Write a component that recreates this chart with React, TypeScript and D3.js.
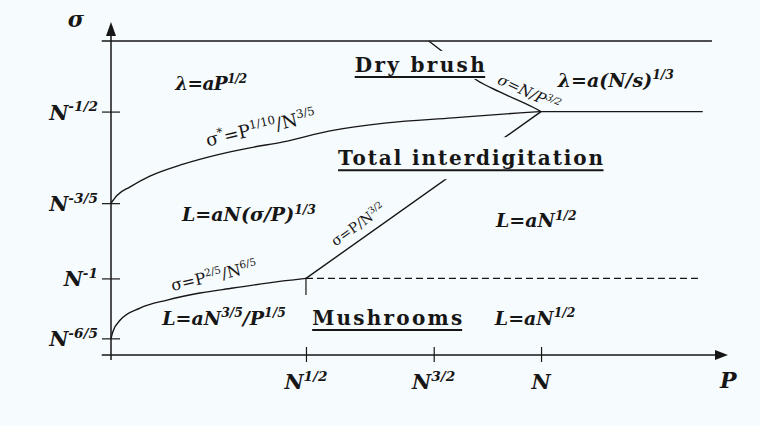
import { useEffect, useRef } from "react";
import * as d3 from "d3";

const W = 760;
const H = 426;
const BG = "#f6fbfd";
const INK = "#161616";
const FONT = "'DejaVu Serif', 'Liberation Serif', serif";

// Schematic diagram: both axes use arbitrary units (0..10).
const xTickValues = [3.16, 5.23, 6.97];
const xTickLabels = ["N^{1/2}", "N^{3/2}", "N"];
const yTickValues = [0.5, 2.3, 4.56, 7.31];
const yTickLabels = ["N^{-6/5}", "N^{-1}", "N^{-3/5}", "N^{-1/2}"];

// boundary  sigma* = P^{1/10} / N^{3/5}
const upperBoundaryX = [0, 0.1, 0.31, 0.63, 1.17, 1.72, 2.25, 2.79, 3.55, 4.47, 5.54, 6.63, 6.97];
const upperBoundaryY = [4.56, 4.8, 5.05, 5.37, 5.73, 6.01, 6.22, 6.4, 6.73, 6.97, 7.12, 7.27, 7.31];

// boundary  sigma = P^{2/5} / N^{6/5}
const lowerBoundaryX = [0, 0.03, 0.15, 0.47, 0.91, 1.44, 1.98, 2.53, 3.16];
const lowerBoundaryY = [0.5, 0.7, 1.05, 1.41, 1.65, 1.86, 2.01, 2.16, 2.3];

// boundary  sigma = P / N^{3/2}
const diagonalX = [3.16, 6.97];
const diagonalY = [2.3, 7.31];

// boundary  sigma = N / P^{3/2}
const dryBoundaryX = [5.15, 5.38, 5.93, 6.3, 6.84, 6.97];
const dryBoundaryY = [9.43, 9.1, 8.25, 7.9, 7.44, 7.31];

// horizontal limits
const topLineX = [-0.15, 9.74];
const topLineY = [9.43, 9.43];
const midLineX = [6.97, 9.59];
const midLineY = [7.31, 7.31];
const dashedX = [3.16, 9.55];
const dashedY = [2.3, 2.3];

type Note = {
  text: string;
  x: number;
  y: number;
  size: number;
  italic?: boolean;
  bold?: boolean;
  anchor?: string;
  angle?: number;
  underline?: boolean;
  mask?: [number, number];
  len?: number;
  spacing?: number;
};

const annotations: Note[] = [
  { text: "λ=aP^{1/2}", x: 1.04, y: 7.96, size: 18.5, italic: true, bold: true, spacing: -0.6 },
  { text: "Dry brush", x: 3.95, y: 8.5, size: 20, bold: true, underline: true, mask: [2, 2], len: 130 },
  { text: "σ=N/P^{3/2}", x: 6.74, y: 7.74, size: 15, italic: true, anchor: "middle", angle: 25 },
  { text: "λ=a(N/s)^{1/3}", x: 7.24, y: 8.05, size: 19, italic: true, bold: true },
  { text: "σ^{*}=P^{1/10}/N^{3/5}", x: 2.45, y: 6.64, size: 18, anchor: "middle", angle: -13 },
  { text: "Total interdigitation", x: 3.68, y: 5.7, size: 20, bold: true, underline: true, mask: [3, 9], len: 265 },
  { text: "L=aN(σ/P)^{1/3}", x: 1.15, y: 4.02, size: 19, italic: true, bold: true },
  { text: "σ=P/N^{3/2}", x: 4.05, y: 3.8, size: 14, anchor: "middle", angle: -35.6 },
  { text: "L=aN^{1/2}", x: 6.24, y: 3.84, size: 19, italic: true, bold: true },
  { text: "σ=P^{2/5}/N^{6/5}", x: 1.69, y: 2.22, size: 16, anchor: "middle", angle: -13 },
  { text: "L=aN^{3/5}/P^{1/5}", x: 0.83, y: 0.9, size: 19, italic: true, bold: true },
  { text: "Mushrooms", x: 3.26, y: 0.9, size: 20, bold: true, underline: true, len: 150 },
  { text: "L=aN^{1/2}", x: 6.22, y: 0.9, size: 19, italic: true, bold: true },
];

function rich(sel: any, str: string, size: number) {
  const parts = str.split(/(\^\{[^}]*\})/).filter(Boolean);
  let raised = false;
  const rise = size * 0.4;
  parts.forEach((p) => {
    const sup = p.startsWith("^{");
    const ts = sel.append("tspan").text(sup ? p.slice(2, -1) : p);
    if (sup) {
      ts.attr("font-size", size * 0.65).attr("dy", -rise);
      raised = true;
    } else if (raised) {
      ts.attr("dy", rise);
      raised = false;
    }
  });
}

export default function App() {
  const svgRef = useRef<SVGSVGElement>(null);

  useEffect(() => {
    if (!svgRef.current) return;
    document.body.style.margin = "0";
    const svg = d3.select(svgRef.current);
    svg.selectAll("*").remove();

    const x = d3.scaleLinear().domain([0, 10]).range([111, 728]);
    const y = d3.scaleLinear().domain([0, 10]).range([355, 22]);

    svg.append("rect").attr("width", W).attr("height", H).attr("fill", BG);

    const g = svg.append("g").attr("font-family", FONT).attr("fill", INK);

    const line = d3.line<[number, number]>().x((d) => x(d[0])).y((d) => y(d[1]));
    const smooth = d3
      .line<[number, number]>()
      .x((d) => x(d[0]))
      .y((d) => y(d[1]))
      .curve(d3.curveMonotoneX);
    const pts = (xs: number[], ys: number[]) => xs.map((v, i) => [v, ys[i]] as [number, number]);

    const stroke = (p: any, w = 1.4) => p.attr("fill", "none").attr("stroke", INK).attr("stroke-width", w);

    // axes lines + arrows
    stroke(g.append("line").attr("x1", x(-0.15)).attr("x2", x(9.85)).attr("y1", y(0)).attr("y2", y(0)), 1.5);
    stroke(g.append("line").attr("x1", x(0)).attr("x2", x(0)).attr("y1", y(-0.15)).attr("y2", y(9.7)), 1.5);
    g.append("path")
      .attr("d", `M${x(0)},${y(10)} L${x(0) - 5},${y(10) + 14} L${x(0) + 5},${y(10) + 14} Z`)
      .attr("fill", INK);
    g.append("path")
      .attr("d", `M${x(10)},${y(0)} L${x(10) - 13},${y(0) - 5} L${x(10) - 13},${y(0) + 5} Z`)
      .attr("fill", INK);

    // ticks through d3 axes
    const xAxis = d3.axisBottom(x).tickValues(xTickValues).tickSizeInner(7).tickSizeOuter(0).tickFormat(() => "");
    const gx = g.append("g").attr("transform", `translate(0,${y(0)})`).call(xAxis);
    gx.select(".domain").remove();
    gx.selectAll(".tick line").attr("y1", -8).attr("stroke", INK).attr("stroke-width", 1.2);

    const yAxis = d3.axisLeft(y).tickValues(yTickValues).tickSizeInner(9).tickSizeOuter(0).tickFormat(() => "");
    const gy = g.append("g").attr("transform", `translate(${x(0)},0)`).call(yAxis);
    gy.select(".domain").remove();
    gy.selectAll(".tick line").attr("x1", 9).attr("stroke", INK).attr("stroke-width", 1.2);

    // tick labels
    xTickValues.forEach((v, i) => {
      const t = g
        .append("text")
        .attr("x", x(v))
        .attr("y", y(0) + 34)
        .attr("text-anchor", "middle")
        .attr("font-size", 21)
        .attr("font-weight", "bold")
        .attr("font-style", "italic");
      rich(t, xTickLabels[i], 21);
    });
    yTickValues.forEach((v, i) => {
      const t = g
        .append("text")
        .attr("x", x(0) - 13)
        .attr("y", y(v) + 8)
        .attr("text-anchor", "end")
        .attr("font-size", 21)
        .attr("font-weight", "bold")
        .attr("font-style", "italic");
      rich(t, yTickLabels[i], 21);
    });

    // axis titles
    g.append("text")
      .attr("x", x(-0.7))
      .attr("y", y(9.85))
      .attr("font-size", 22)
      .attr("font-weight", "bold")
      .attr("font-style", "italic")
      .text("σ");
    g.append("text")
      .attr("x", x(9.87))
      .attr("y", y(-0.99))
      .attr("font-size", 22)
      .attr("font-weight", "bold")
      .attr("font-style", "italic")
      .text("P");

    // phase boundaries
    stroke(g.append("path").attr("d", line(pts(topLineX, topLineY))));
    stroke(g.append("path").attr("d", line(pts(midLineX, midLineY))));
    stroke(g.append("path").attr("d", line(pts(dashedX, dashedY)))).attr("stroke-dasharray", "7,4").attr("stroke-width", 1.1);
    stroke(g.append("path").attr("d", smooth(pts(upperBoundaryX, upperBoundaryY))));
    stroke(g.append("path").attr("d", smooth(pts(lowerBoundaryX, lowerBoundaryY))));
    stroke(g.append("path").attr("d", line(pts(diagonalX, diagonalY))));
    stroke(g.append("path").attr("d", smooth(pts(dryBoundaryX, dryBoundaryY))));
    // short marker under the mushroom / interdigitation junction
    stroke(g.append("line").attr("x1", x(3.16)).attr("x2", x(3.16)).attr("y1", y(2.3)).attr("y2", y(1.8)), 1.2);

    // region labels and boundary formulas
    annotations.forEach((a) => {
      const px = x(a.x);
      const py = y(a.y);
      const grp = g.append("g").attr("transform", `translate(${px},${py}) rotate(${a.angle ?? 0})`);
      const t = grp
        .append("text")
        .attr("text-anchor", a.anchor ?? "start")
        .attr("font-size", a.size)
        .attr("font-weight", a.bold ? "bold" : "normal")
        .attr("font-style", a.italic ? "italic" : "normal");
      if (a.len) t.attr("textLength", a.len).attr("lengthAdjust", "spacing");
      if (a.spacing) t.attr("letter-spacing", a.spacing);
      rich(t, a.text, a.size);
      const bb = (t.node() as SVGTextElement).getBBox();
      if (a.mask) {
        grp
          .insert("rect", () => t.node())
          .attr("x", bb.x - a.mask[0])
          .attr("y", bb.y - a.mask[1])
          .attr("width", bb.width + 2 * a.mask[0])
          .attr("height", bb.height + 2 * a.mask[1])
          .attr("fill", BG);
      }
      if (a.underline) {
        grp
          .append("line")
          .attr("x1", bb.x)
          .attr("x2", bb.x + bb.width)
          .attr("y1", 5)
          .attr("y2", 5)
          .attr("stroke", INK)
          .attr("stroke-width", 2);
      }
    });
  }, []);

  return (
    <svg
      ref={svgRef}
      width={W}
      height={H}
      viewBox={`0 0 ${W} ${H}`}
      style={{ position: "absolute", left: 0, top: 0, display: "block" }}
    />
  );
}
